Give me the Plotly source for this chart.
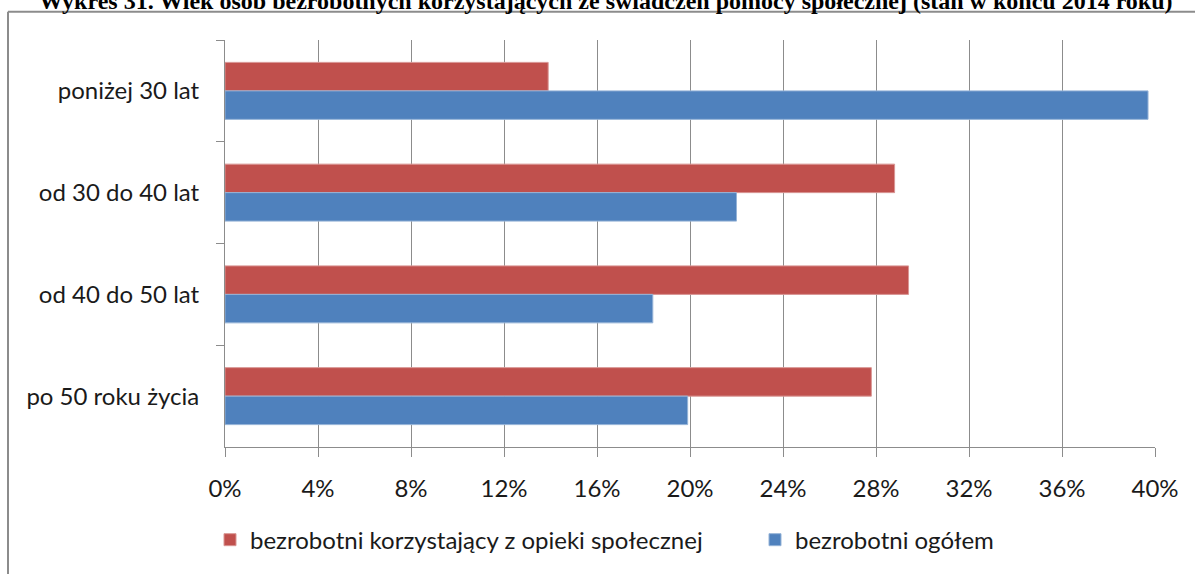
import plotly.graph_objects as go

categories = ["poniżej 30 lat", "od 30 do 40 lat", "od 40 do 50 lat", "po 50 roku życia"]
series_names = ["bezrobotni korzystający z opieki społecznej", "bezrobotni ogółem"]
social_help = [13.9, 28.8, 29.4, 27.8]
all_unemployed = [39.7, 22.0, 18.4, 19.9]
tick_vals = [0, 4, 8, 12, 16, 20, 24, 28, 32, 36, 40]
tick_text = [f"{v}%" for v in tick_vals]
title_text = "Wykres 31. Wiek osób bezrobotnych korzystających ze świadczeń pomocy społecznej (stan w końcu 2014 roku)"

W, H = 1195, 574
L, R, T, B = 225, 40, 40, 123
pw, ph = W - L - R, H - T - B

def px_x(x):
    return (x - L) / pw

def px_y(y):
    return (H - B - y) / ph

fig = go.Figure()
fig.add_trace(go.Bar(
    y=categories, x=social_help, name=series_names[0], orientation="h",
    marker=dict(color="#C0504D", line=dict(color="#D99694", width=1)),
    legend="legend",
))
fig.add_trace(go.Bar(
    y=categories, x=all_unemployed, name=series_names[1], orientation="h",
    marker=dict(color="#4F81BD", line=dict(color="#95B3D7", width=1)),
    legend="legend2",
))

font_family = "Lato, Carlito, Calibri, sans-serif"
legend_common = dict(orientation="h", xanchor="left", yanchor="middle",
                     font=dict(size=24), itemwidth=30, bgcolor="rgba(0,0,0,0)")
fig.update_layout(
    width=W, height=H,
    margin=dict(l=L, r=R, t=T, b=B),
    paper_bgcolor="white", plot_bgcolor="white",
    barmode="group", bargap=0.44, bargroupgap=0,
    font=dict(family=font_family, size=24, color="#1a1a1a"),
    showlegend=True,
    legend=dict(x=px_x(210), y=px_y(545), **legend_common),
    legend2=dict(x=px_x(755), y=px_y(545), **legend_common),
    xaxis=dict(range=[0, 40], tickvals=tick_vals, ticktext=tick_text,
               showgrid=True, gridcolor="#8c8c8c", gridwidth=1,
               showline=True, linecolor="#8c8c8c", linewidth=1,
               ticks="outside", ticklen=9, tickcolor="#8c8c8c",
               ticklabelstandoff=11,
               zeroline=False, fixedrange=True, tickfont=dict(size=24)),
    yaxis=dict(autorange="reversed", type="category",
               showgrid=False, showline=True, linecolor="#8c8c8c", linewidth=1,
               ticks="outside", ticklen=8, tickcolor="#8c8c8c",
               tickson="boundaries", ticklabelstandoff=20,
               zeroline=False, fixedrange=True, tickfont=dict(size=24)),
    shapes=[
        dict(type="line", xref="paper", yref="paper", x0=px_x(8), x1=px_x(1200),
             y0=px_y(11.5), y1=px_y(11.5), line=dict(color="#8c8c8c", width=2)),
        dict(type="line", xref="paper", yref="paper", x0=px_x(8), x1=px_x(8),
             y0=px_y(11.5), y1=px_y(600), line=dict(color="#8c8c8c", width=2)),
    ],
    annotations=[
        dict(text="<b>" + title_text + "</b>", xref="paper", yref="paper", x=px_x(606), y=px_y(16),
             xanchor="center", yanchor="bottom", showarrow=False,
             font=dict(family="Liberation Serif, Times New Roman, serif", size=24, color="black"),
             ),
    ],
)
fig.update_traces(hoverinfo="x+y")
fig.write_html("out.html", config={"displayModeBar": False},
               post_script="document.body.style.margin='0';")
